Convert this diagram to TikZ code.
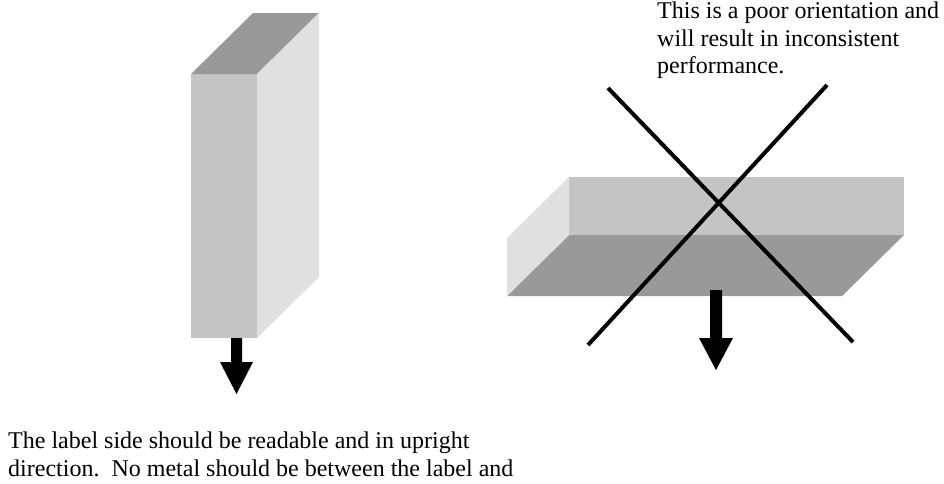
\documentclass[tikz,border=0pt]{standalone}
\usepackage{fontspec}
\setmainfont{Liberation Serif}

\begin{document}
\begin{tikzpicture}[x=1pt, y=-1pt,
    darkface/.style={fill=black!40},
    midface/.style={fill=black!23},
    lightface/.style={fill=black!12},
    crossline/.style={line width=4pt},
    note/.style={inner sep=0pt, anchor=north west, align=left,
      font=\fontsize{24}{27.6}\selectfont}]
    \useasboundingbox (0,0) rectangle (944,483);

    % Upright box
    \fill[midface]   (191,74) rectangle (257,338);
    \fill[darkface]  (191,74) -- (253,13) -- (319,13) -- (257,74) -- cycle;
    \fill[lightface] (257,74) -- (319,13) -- (319,277) -- (257,338) -- cycle;

    % Arrow under the upright box
    \fill (231,338) -- (242,338) -- (242,362) -- (253,362) -- (236.5,394)
      -- (220,362) -- (231,362) -- cycle;

    % Flat box
    \fill[midface]   (569,177) rectangle (904,235);
    \fill[darkface]  (569,235) -- (904,235) -- (842,296) -- (507,296) -- cycle;
    \fill[lightface] (507,238) -- (569,177) -- (569,235) -- (507,296) -- cycle;

    % Arrow under the flat box
    \fill (710,290) -- (722,290) -- (722,338) -- (733,338) -- (716,370)
      -- (699,338) -- (710,338) -- cycle;

    % Cross over the flat box
    \draw[crossline] (608,88) -- (853,342);
    \draw[crossline] (827,85) -- (588,345);

    % Notes
    \node[note] (poornote) at (657,1.6) {This is a poor orientation and\\
      will result in inconsistent\\ performance.};
    \node[note] (labelnote) at (8,431.6) {The label side should be readable and in upright\\
      direction.\ \ No metal should be between the label and};
  \end{tikzpicture}
\end{document}
